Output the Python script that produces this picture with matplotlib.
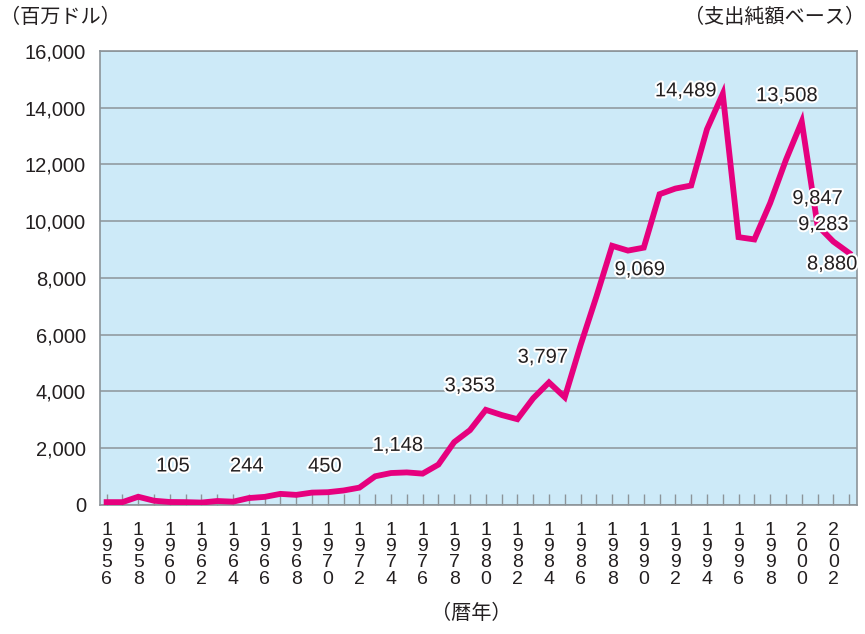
import matplotlib.pyplot as plt
import matplotlib.patheffects as pe

# Japan ODA, net disbursement (million USD)
years = list(range(1956, 2004))
oda = [100, 100, 290, 150, 105, 100, 85, 140, 116, 244,
       285, 391, 356, 436, 450, 511, 611, 1011, 1126, 1148,
       1105, 1424, 2215, 2638, 3353, 3171, 3023, 3761, 4319, 3797,
       5634, 7342, 9134, 8965, 9069, 10952, 11151, 11259, 13239, 14489,
       9439, 9358, 10640, 12163, 13508, 9847, 9283, 8880]

label_years = [1960, 1965, 1970, 1975, 1980, 1985, 1990, 1995, 2000, 2001, 2002, 2003]
label_text = ['105', '244', '450', '1,148', '3,353', '3,797', '9,069',
              '14,489', '13,508', '9,847', '9,283', '8,880']
label_offsets = [(3, 36), (-2, 32), (-3, 26), (-9, 27), (-16, 24), (-22, 40),
                 (-4, -22), (-37, 3), (-15, 26), (0, 27), (-10, 17), (-17, -11)]

yticks = list(range(0, 16001, 2000))
xtick_years = list(range(1956, 2003, 2))

num_font = 'Liberation Sans'
jp_font = ['Noto Sans CJK JP', 'DejaVu Sans']

fig = plt.figure(figsize=(8.65, 6.34), dpi=100)
ax = fig.add_axes([0.1156, 0.2035, 0.8752, 0.7161])
ax.set_facecolor('#cdeaf8')

ax.plot(years, oda, color='#e6007e', lw=4.2, solid_joinstyle='miter', zorder=3)

ax.set_xlim(1955.58, 2003.5)
ax.set_ylim(0, 16000)
ax.set_yticks(yticks)
ax.set_yticklabels([f'{v:,}' for v in yticks], family=num_font, fontsize=14.5,
                   color='#231f20')
ax.tick_params(axis='y', length=0, pad=10)
ax.grid(axis='y', color='#8c9499', lw=1.1)
ax.set_axisbelow(True)

ax.set_xticks(years, minor=True)
ax.set_xticks(xtick_years)
ax.set_xticklabels(['\n'.join(str(y)) for y in xtick_years], family=num_font,
                   fontsize=14, linespacing=0.95, va='top', color='#231f20')
ax.tick_params(axis='x', which='both', direction='in', length=8, color='#8c9499',
               width=1, pad=12)

for s in ax.spines.values():
    s.set_color('#8c9499')
    s.set_linewidth(1.2)

for yr, txt, off in zip(label_years, label_text, label_offsets):
    v = oda[years.index(yr)]
    ax.annotate(txt, (yr, v), xytext=off, textcoords='offset pixels',
                ha='center', va='center', fontsize=14.5, family=num_font,
                color='#231f20', zorder=4,
                path_effects=[pe.withStroke(linewidth=3, foreground='white')])

fig.text(0.0, 0.972, '（百万ドル）', family=jp_font, fontsize=14.5, va='center', ha='left',
         color='#231f20')
fig.text(1.0, 0.972, '（支出純額ベース）', family=jp_font, fontsize=14.5, va='center', ha='right',
         color='#231f20')
fig.text(0.545, 0.033, '（暦年）', family=jp_font, fontsize=14.5, va='center', ha='center',
         color='#231f20')

fig.savefig('out.png', dpi=100)
